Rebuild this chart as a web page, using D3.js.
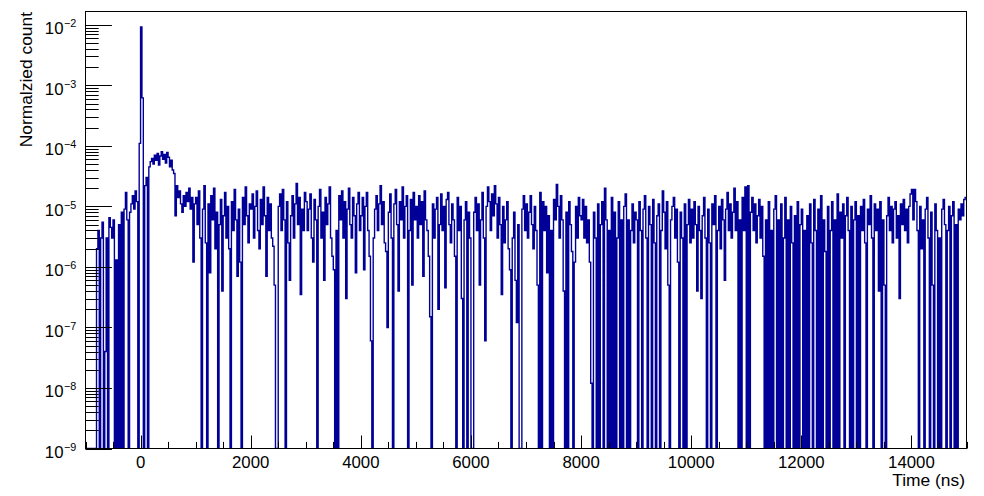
<!DOCTYPE html>
<html><head><meta charset="utf-8">
<script src="https://cdn.jsdelivr.net/npm/d3@7"></script>
<style>body{margin:0;background:#fff}svg{display:block}text{font-family:"Liberation Sans",Arial,Helvetica,sans-serif;fill:#000}</style>
</head><body><svg id="c" width="984" height="496"></svg>
<script>
// ---- data ----
const xDomain = [-1000, 15000];
const binStart = -1000, binWidth = 25;          // ns
const yDomain = [1e-9, 1.66e-2];
// bin contents in units of 1e-6, 40 bins (1000 ns) per row
const countsE6 = [
0,0,0,0,0,0,0,0,2,4,0,3,5.5,0,0.04,3,0,6.5,4.5,3,6,0,1.3,0,5,0,8,0,9,17,6,0,8,11,15,9,18,12,0,110,
9200,620,0,22,30,0,45,55,62,50,70,58,75,48,68,80,60,72,52,78,65,45,58,40,35,7,22,14,18,11,8,15,10,17,12,20,9,14,1.2,11,
14,5,18,3,0,9,22,2.5,0,11,0.8,15,6,20,2,8,0,5,13,0.4,7,17,3,10,2,0,12,4,19,6,0.7,9,1.2,0,14,5,21,7,2.5,11,
9,16,3,10,18,4,2,13,5,21,7,0.7,14,4,11,3,2.2,0.5,0,0,10,16,4,19,6,0,12,2.5,0.6,7,15,3,11,24,5,14,0.35,9,4,17,
12,4,9,16,3,1.2,13,6,0,10,19,3,8,0.6,14,5,11,21,3,1.5,0.9,0,4,0,15,6,18,3,12,0.3,9,20,5,3,14,7,0.8,11,17,4,
7,14,0.9,10,17,4,1.5,0.06,0,3,9,15,4,11,22,5,12,2.5,1.8,0.1,8,16,3,0,11,19,5,0.4,12,6,21,3,10,15,0,4,13,0.5,17,6,
10,3,15,5,12,0.7,18,6,4,1.5,0.15,0,11,3,9,14,0.2,5,16,4,10,0.45,13,17,5,2.5,11,6,1.5,0,14,4,10,0.3,0,6,12,0,8,3,
0,0,8,14,4,11,0.5,6,17,3,0.06,10,21,12,4,16,7,22,11,3,14,5,0.35,10,2.5,6,12,2,0.9,0,3,8,0.6,0.12,5,0,0,9,15,4,
11,3,8,15,5,2,10,4,0.5,0,17,0,12,4,10,0.8,7,0,4,0,13,6,23,10,3,15,6,0.4,0,8,0,12,5,1.8,0,1.2,10,3,14,7,
6,13,3,10,2.5,6,1.2,0.012,0,8,3,0,11,0,5,12,0,20,6,0,4,0,14,0,8,0,3,12,0,6,0,10,16,0,6,0,4,11,2.5,8,
6,0,12,4,0,9,15,3,0,10,5,0,13,2.5,0,7,11,0,4,18,8,2,12,0.5,0,6,10,14,3,9,1.2,0,8,3,0,11,0,5,13,2.5,
9,3,12,5,0.4,10,4,0.3,7,14,3,0,9,2.5,0,11,5,15,0,4,10,2,13,6,0.6,9,17,4,11,3,8,20,4,12,0,6,0,14,4,21,
0,22,0,8,14,4,11,2.5,7,13,3,10,1.5,0,6,0,12,0,4,0,9,15,0,6,0,11,0,3,14,0,6,0,10,2.5,0,7,0,12,0,5,
9,0,4,0,7,0,11,2.5,0,13,4,0,9,0,15,0,6,1.8,0,10,0,4,12,0,6,0,16,0,8,3,11,0,7,14,4,0,10,0,6,12,
0,7,0,10,4,13,2.5,0,9,5,15,3,0,11,4,9,0.4,12,0,6,0.5,0,7,14,4,10,2.5,9,12,3,7,0.3,11,5,13,4,9,2.5,10,16,
19,6,19,12,4,0,10,2,6,0,9,14,3,0,8,0.5,0,11,4,0,3,0,9,13,5,0,4,10,0,7,12,0,5,0,9,6,11,7,13,14
];
const xTickValues = [0, 2000, 4000, 6000, 8000, 10000, 12000, 14000];
const xMinorStep = 500;
const yDecadeExponents = [-9, -8, -7, -6, -5, -4, -3, -2];
const xTitle = "Time (ns)";
const yTitle = "Normalzied count";
const lineColor = "#000099";

// ---- layout ----
const L = 85.5, R = 966.5, T = 11.5, B = 448.5;
const svg = d3.select("#c");
const x = d3.scaleLinear().domain(xDomain).range([L, R]);
const y = d3.scaleLog().domain(yDomain).range([B, T]);

svg.append("defs").append("clipPath").attr("id","fr")
  .append("rect").attr("x",L).attr("y",T).attr("width",R-L).attr("height",B-T);

// histogram step outline
const pts = [];
countsE6.forEach((c, i) => {
  const lo = binStart + i*binWidth, hi = lo + binWidth;
  const v = c*1e-6;
  const yy = v > 0 ? Math.max(y(Math.max(v, yDomain[0])), T) : B;
  pts.push([x(lo), yy], [x(hi), yy]);
});
svg.append("path").attr("clip-path","url(#fr)")
  .attr("d", d3.line()(pts))
  .attr("fill","none").attr("stroke",lineColor).attr("stroke-width",1.4)
  .attr("stroke-linejoin","miter").attr("stroke-miterlimit",2);

// frame
svg.append("rect").attr("x",L).attr("y",T).attr("width",R-L).attr("height",B-T)
  .attr("fill","none").attr("stroke","#000").attr("stroke-width",1);

const g = svg.append("g").attr("stroke","#000").attr("stroke-width",1);
// y ticks
const yMajLen = 26.4, yMinLen = 13.2;
yDecadeExponents.forEach(e => {
  const base = Math.pow(10, e);
  const yy = Math.round(y(base)) + 0.5;
  g.append("line").attr("x1",L).attr("x2",L+yMajLen).attr("y1",yy).attr("y2",yy);
  for (let k = 2; k <= 9; k++) {
    const v = k*base;
    if (v > yDomain[1]) break;
    const ym = Math.round(y(v)) + 0.5;
    g.append("line").attr("x1",L).attr("x2",L+yMinLen).attr("y1",ym).attr("y2",ym);
  }
  const t = svg.append("g");
  t.append("text").attr("x",63.5).attr("y",y(base)+9.3).attr("text-anchor","end")
    .attr("font-size",16.8).text("10");
  t.append("text").attr("x",64).attr("y",y(base)+2.3).attr("font-size",10.8)
    .text("\u2212" + Math.abs(e));
});
// x ticks
for (let v = xDomain[0]; v <= xDomain[1]; v += xMinorStep) {
  const xx = Math.round(x(v)) + 0.5;
  const major = xTickValues.includes(v);
  g.append("line").attr("x1",xx).attr("x2",xx).attr("y1",B).attr("y2",B-(major?13:6.6));
}
xTickValues.forEach(v => {
  svg.append("text").attr("x",x(v)).attr("y",467.5).attr("text-anchor","middle")
    .attr("font-size",16.8).text(v);
});
// titles
svg.append("text").attr("x",965).attr("y",486).attr("text-anchor","end")
  .attr("font-size",17.4).text(xTitle);
svg.append("text").attr("transform","translate(31.5,12) rotate(-90)")
  .attr("text-anchor","end").attr("font-size",17.4).text(yTitle);
</script></body></html>
